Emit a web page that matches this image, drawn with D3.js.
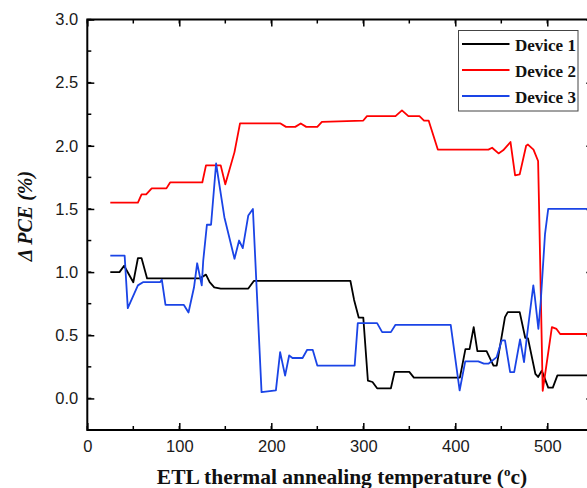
<!DOCTYPE html>
<html>
<head>
<meta charset="utf-8">
<script src="https://cdn.jsdelivr.net/npm/d3@7/dist/d3.min.js"></script>
<style>
  html, body { margin: 0; padding: 0; background: #fff; overflow: hidden; }
  svg { display: block; }
</style>
</head>
<body>
<svg id="chart" width="587" height="488"></svg>
<script>
// ---- data ----
const xTicks = [0, 100, 200, 300, 400, 500];
const yTicks = [0.0, 0.5, 1.0, 1.5, 2.0, 2.5, 3.0];
const seriesNames = ["Device 1", "Device 2", "Device 3"];
const seriesColors = ["#000000", "#ff0000", "#1a44e6"];

const dev1X = [25, 35, 40, 50, 55, 59, 65, 122, 129, 133, 138, 145, 175, 181, 286, 290, 295, 300, 305, 310, 315, 330, 334, 350, 355, 405, 411, 415.5, 420, 424, 434, 441.5, 445, 454, 457, 470, 476, 479, 487, 490, 494, 501, 506, 511, 550];
const dev1Y = [1.0, 1.0, 1.05, 0.92, 1.11, 1.11, 0.95, 0.95, 0.98, 0.92, 0.88, 0.87, 0.87, 0.93, 0.93, 0.78, 0.64, 0.64, 0.14, 0.13, 0.08, 0.08, 0.21, 0.21, 0.165, 0.165, 0.39, 0.39, 0.565, 0.375, 0.375, 0.26, 0.26, 0.644, 0.683, 0.683, 0.48, 0.475, 0.195, 0.17, 0.22, 0.085, 0.085, 0.182, 0.182];

const dev2X = [25, 55, 59, 64, 70, 86, 90, 125, 129, 145, 150, 160, 166, 210, 216, 226, 232, 238, 250, 255, 300, 304, 335, 342, 349, 361, 366, 371, 381, 436, 440, 447, 452, 460, 465, 470, 477, 479, 485, 490, 491, 495, 505, 510, 514, 550];
const dev2Y = [1.55, 1.55, 1.615, 1.615, 1.663, 1.663, 1.71, 1.71, 1.845, 1.845, 1.695, 1.95, 2.177, 2.177, 2.15, 2.15, 2.177, 2.15, 2.15, 2.19, 2.2, 2.235, 2.235, 2.28, 2.235, 2.235, 2.2, 2.2, 1.97, 1.97, 1.985, 1.94, 1.964, 2.03, 1.766, 1.774, 2.0, 2.01, 1.97, 1.88, 1.54, 0.06, 0.565, 0.55, 0.51, 0.51];

const dev3X = [25, 40.6, 44, 55, 60.5, 79, 81, 85, 105, 110, 116, 119.4, 124.4, 126, 130, 134.5, 140, 149, 160, 165, 169, 175, 180, 189.4, 205, 209.6, 215, 219.4, 223, 234, 239, 245, 250, 290.6, 294, 315, 320.5, 330, 335, 395, 404.7, 410.8, 425, 431, 436, 445, 450.5, 454, 459.6, 464, 470.4, 474.7, 478, 484.8, 486.5, 490.3, 492.8, 497.5, 501, 550];
const dev3Y = [1.13, 1.13, 0.715, 0.895, 0.92, 0.92, 0.94, 0.74, 0.74, 0.68, 0.88, 1.07, 0.895, 1.09, 1.375, 1.375, 1.86, 1.435, 1.106, 1.25, 1.19, 1.449, 1.5, 0.05, 0.063, 0.367, 0.18, 0.34, 0.32, 0.32, 0.385, 0.385, 0.26, 0.26, 0.596, 0.596, 0.525, 0.525, 0.583, 0.583, 0.063, 0.293, 0.293, 0.275, 0.275, 0.327, 0.46, 0.46, 0.208, 0.208, 0.467, 0.288, 0.5, 0.895, 0.8, 0.55, 0.76, 1.3, 1.5, 1.5];

// ---- layout ----
const svg = d3.select("#chart");
const pLeft = 87.3, pRight = 593.3, pTop = 19.5, pBottom = 430;
const x = d3.scaleLinear().domain([0, 550]).range([pLeft, pRight]);
const y = d3.scaleLinear().domain([-0.25, 3.0]).range([pBottom, pTop]);

const tickFont = "'Liberation Sans', Arial, sans-serif";
const serif = "'Liberation Serif', 'Times New Roman', serif";

const xMinor = d3.range(0, 551, 50);
const yMinor = d3.range(-0.25, 3.001, 0.25);

function styleAxis(g) {
  g.select(".domain").remove();
  g.selectAll(".tick line").attr("stroke", "#000").attr("stroke-width", 1.5);
}

// minor ticks (inward) on all four sides
const minorLen = 4, majorLen = 7;
const gm = svg.append("g");
gm.selectAll("line.xb").data(xMinor).join("line").attr("class", "xb")
  .attr("x1", d => x(d)).attr("x2", d => x(d)).attr("y1", pBottom).attr("y2", pBottom - minorLen)
  .attr("stroke", "#000").attr("stroke-width", 1.5);
gm.selectAll("line.xt").data(xMinor).join("line").attr("class", "xt")
  .attr("x1", d => x(d)).attr("x2", d => x(d)).attr("y1", pTop).attr("y2", pTop + minorLen)
  .attr("stroke", "#000").attr("stroke-width", 1.5);
gm.selectAll("line.yl").data(yMinor).join("line").attr("class", "yl")
  .attr("x1", pLeft).attr("x2", pLeft + minorLen).attr("y1", d => y(d)).attr("y2", d => y(d))
  .attr("stroke", "#000").attr("stroke-width", 1.5);
gm.selectAll("line.yr").data(yMinor).join("line").attr("class", "yr")
  .attr("x1", pRight).attr("x2", pRight - minorLen).attr("y1", d => y(d)).attr("y2", d => y(d))
  .attr("stroke", "#000").attr("stroke-width", 1.5);

// major axes
const xAxis = svg.append("g").attr("transform", `translate(0,${pBottom})`)
  .call(d3.axisBottom(x).tickValues(xTicks).tickFormat(d3.format("d")).tickSizeInner(-majorLen).tickSizeOuter(0).tickPadding(10));
styleAxis(xAxis);
xAxis.selectAll("text").attr("font-family", tickFont).attr("font-size", "16.5px").attr("fill", "#1a1a1a");

const xAxisTop = svg.append("g").attr("transform", `translate(0,${pTop})`)
  .call(d3.axisTop(x).tickValues(xTicks).tickFormat("").tickSizeInner(-majorLen).tickSizeOuter(0));
styleAxis(xAxisTop);

const yAxis = svg.append("g").attr("transform", `translate(${pLeft},0)`)
  .call(d3.axisLeft(y).tickValues(yTicks).tickFormat(d3.format(".1f")).tickSizeInner(-majorLen).tickSizeOuter(0).tickPadding(9));
styleAxis(yAxis);
yAxis.selectAll("text").attr("font-family", tickFont).attr("font-size", "16.5px").attr("fill", "#1a1a1a");

const yAxisRight = svg.append("g").attr("transform", `translate(${pRight},0)`)
  .call(d3.axisRight(y).tickValues(yTicks).tickFormat("").tickSizeInner(-majorLen).tickSizeOuter(0));
styleAxis(yAxisRight);

// frame
svg.append("rect").attr("x", pLeft).attr("y", pTop).attr("width", pRight - pLeft).attr("height", pBottom - pTop)
  .attr("fill", "none").attr("stroke", "#000").attr("stroke-width", 2);

// series
const line = d3.line().x(d => x(d[0])).y(d => y(d[1]));
const series = [
  d3.zip(dev1X, dev1Y),
  d3.zip(dev2X, dev2Y),
  d3.zip(dev3X, dev3Y)
];
svg.append("g").selectAll("path").data(series).join("path")
  .attr("d", line)
  .attr("fill", "none")
  .attr("stroke", (d, i) => seriesColors[i])
  .attr("stroke-width", 1.8)
  .attr("stroke-linejoin", "round");

// legend
const lg = svg.append("g");
lg.append("rect").attr("x", 458.5).attr("y", 30.5).attr("width", 119.5).attr("height", 80.5)
  .attr("fill", "#fff").attr("stroke", "#444").attr("stroke-width", 1);
const legY = [44, 70, 96];
seriesNames.forEach((name, i) => {
  lg.append("line").attr("x1", 462).attr("x2", 509.5).attr("y1", legY[i]).attr("y2", legY[i])
    .attr("stroke", seriesColors[i]).attr("stroke-width", 1.8);
  lg.append("text").attr("x", 515).attr("y", legY[i] + 6.5)
    .attr("font-family", serif).attr("font-weight", "bold").attr("font-size", "17px")
    .attr("fill", "#111").text(name);
});

// axis titles
const xt = svg.append("text").attr("x", 342).attr("y", 484).attr("text-anchor", "middle")
  .attr("font-family", serif).attr("font-weight", "bold").attr("font-size", "21.5px").attr("fill", "#111");
xt.append("tspan").text("ETL thermal annealing temperature (");
xt.append("tspan").attr("font-size", "13px").attr("dy", -8).text("o");
xt.append("tspan").attr("dy", 8).text("c)");

svg.append("text")
  .attr("transform", "translate(32,216) rotate(-90)")
  .attr("text-anchor", "middle")
  .attr("font-family", serif).attr("font-weight", "bold").attr("font-style", "italic")
  .attr("font-size", "20px").attr("fill", "#111")
  .text("Δ PCE (%)");
</script>
</body>
</html>
